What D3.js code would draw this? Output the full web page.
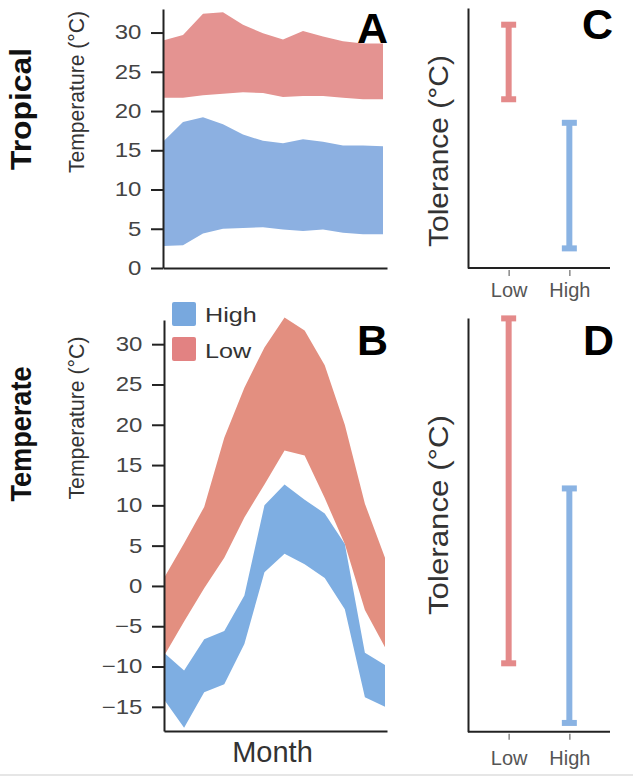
<!DOCTYPE html>
<html>
<head>
<meta charset="utf-8">
<script src="https://cdn.jsdelivr.net/npm/d3@7"></script>
<style>
  html, body { margin: 0; padding: 0; background: #fff; }
  svg { display: block; font-family: "Liberation Sans", Arial, Helvetica, sans-serif; }
</style>
</head>
<body>
<svg id="chart" width="633" height="779"></svg>
<script>
// ---------------- DATA ----------------
const months = [1, 2, 3, 4, 5, 6, 7, 8, 9, 10, 11, 12];

// Tropical (panel A), °C
const tropHighMin = [2.8, 2.9, 4.4, 5.0, 5.1, 5.2, 4.9, 4.7, 4.9, 4.5, 4.3, 4.3];
const tropHighMax = [16.1, 18.6, 19.2, 18.3, 17.0, 16.2, 15.9, 16.4, 16.1, 15.6, 15.6, 15.5];
const tropLowMin  = [21.7, 21.7, 22.0, 22.2, 22.4, 22.3, 21.8, 21.9, 21.9, 21.7, 21.5, 21.5];
const tropLowMax  = [29.0, 29.7, 32.4, 32.6, 31.0, 29.9, 29.1, 30.2, 29.5, 28.9, 28.6, 28.6];

// Temperate (panel B), °C
const tempHighMin = [-14.1, -17.6, -13.2, -12.2, -7.2, 1.7, 4.0, 2.7, 1.0, -2.9, -13.8, -15.0];
const tempHighMax = [-8.3, -10.5, -6.6, -5.6, -1.2, 10.0, 12.6, 10.7, 9.0, 5.2, -8.3, -9.8];
const tempLowMin  = [-8.7, -4.4, -0.3, 3.5, 8.5, 12.6, 16.8, 16.2, 10.9, 5.2, -3.0, -7.6];
const tempLowMax  = [1.0, 5.3, 9.8, 18.4, 24.6, 29.6, 33.3, 31.7, 27.4, 20.0, 10.2, 3.5];

// Tolerance ranges (panels C, D): [min, max]
const tolCategories = ["Low", "High"];
const tropTolerance = { Low: [21.5, 31.0], High: [2.5, 18.5] };
const tempTolerance = { Low: [-9.6, 33.2], High: [-17.0, 12.1] };

const tickA = [0, 5, 10, 15, 20, 25, 30];
const tickB = [-15, -10, -5, 0, 5, 10, 15, 20, 25, 30];
const legendLabels = ["High", "Low"];

// ---------------- STYLE ----------------
const colors = {
  redA: "#e49391", blueA: "#8cb0e1",
  redB: "#e38f80", blueB: "#7eaee2",
  barRed: "#e48a8a", barBlue: "#8ab3e3",
  legBlue: "#78a8de", legRed: "#e28282",
  axis: "#222", tickText: "#444"
};

const svg = d3.select("#chart");
svg.append("rect").attr("width", 633).attr("height", 779).attr("fill", "#fff");

// ---------------- SCALES ----------------
const xA = d3.scaleLinear().domain([1, 12]).range([163, 383]);
const yA = d3.scaleLinear().domain([0, 33]).range([268, 9]);
const xB = d3.scaleLinear().domain([1, 12]).range([164, 385]);
const yB = d3.scaleLinear().domain([-18, 33]).range([731, 320]);

const xC = d3.scalePoint().domain(tolCategories).range([468, 610]).padding(0.67);
const yC = yA;
const yD = yB;

function zip(lo, hi) { return months.map((m, i) => ({ m, lo: lo[i], hi: hi[i] })); }

function band(g, x, y, data, fill) {
  const area = d3.area().x(d => x(d.m)).y0(d => y(d.lo)).y1(d => y(d.hi));
  g.append("path").datum(data).attr("d", area).attr("fill", fill);
}

function styleAxis(g) {
  g.selectAll(".domain").attr("stroke", colors.axis).attr("stroke-width", 2);
  g.selectAll(".tick line").attr("stroke", colors.axis).attr("stroke-width", 2);
}

function leftAxis(y, tickVals, x0) {
  const g = svg.append("g").attr("transform", `translate(${x0},0)`)
    .call(d3.axisLeft(y).tickValues(tickVals).tickSize(12).tickSizeOuter(0).tickPadding(6).tickFormat(d3.format("d")));
  styleAxis(g);
  g.selectAll(".tick text")
    .attr("font-size", 20).attr("fill", colors.tickText)
    .attr("font-family", "'Liberation Sans', Arial, sans-serif")
    .attr("transform", "scale(1.2,1)");
  return g;
}

function bottomLine(x0, x1, yy) {
  const s = d3.scaleLinear().domain([0, 1]).range([x0, x1]);
  const g = svg.append("g").attr("transform", `translate(0,${yy})`)
    .call(d3.axisBottom(s).tickValues([]).tickSizeOuter(0));
  styleAxis(g);
}

// ---------------- PANEL A ----------------
const gA = svg.append("g");
band(gA, xA, yA, zip(tropLowMin, tropLowMax), colors.redA);
band(gA, xA, yA, zip(tropHighMin, tropHighMax), colors.blueA);
leftAxis(yA, tickA, 163);
bottomLine(163, 387, 268);

// ---------------- PANEL B ----------------
const gB = svg.append("g");
band(gB, xB, yB, zip(tempLowMin, tempLowMax), colors.redB);
band(gB, xB, yB, zip(tempHighMin, tempHighMax), colors.blueB);
leftAxis(yB, tickB, 164);
bottomLine(164, 387, 731);

// Legend
const legColors = [colors.legBlue, colors.legRed];
legendLabels.forEach((lab, i) => {
  svg.append("rect").attr("x", 172).attr("y", 302 + i * 35).attr("width", 24).attr("height", 24)
    .attr("rx", 2).attr("fill", legColors[i]);
  svg.append("text").attr("transform", `translate(205,${322 + i * 36}) scale(1.2,1)`)
    .attr("font-size", 21).attr("fill", "#333").text(lab);
});

// Month label
svg.append("text").attr("x", 272.5).attr("y", 762).attr("text-anchor", "middle")
  .attr("font-size", 29).attr("fill", "#333").text("Month");

// ---------------- PANELS C, D ----------------
function tolPanel(y, tol, axisTop, axisBottomY, tickPad) {
  const g = svg.append("g");
  const gy = svg.append("g").attr("transform", "translate(468,0)")
    .call(d3.axisLeft(d3.scaleLinear().domain([0, 1]).range([axisBottomY, axisTop])).tickValues([]).tickSizeOuter(0));
  styleAxis(gy);
  const gx = svg.append("g").attr("transform", `translate(0,${axisBottomY})`)
    .call(d3.axisBottom(xC).tickSize(8).tickSizeOuter(0).tickPadding(tickPad));
  gx.selectAll(".domain").attr("stroke", colors.axis).attr("stroke-width", 2)
    .attr("d", `M468,0H610`);
  gx.selectAll(".tick line").attr("stroke", "#888").attr("stroke-width", 1.5).attr("y1", 2);
  gx.selectAll(".tick text").attr("font-size", 20).attr("fill", "#555")
    .attr("font-family", "'Liberation Sans', Arial, sans-serif");

  const barCol = { Low: colors.barRed, High: colors.barBlue };
  tolCategories.forEach(c => {
    const cx = xC(c), [lo, hi] = tol[c];
    g.append("line").attr("x1", cx).attr("x2", cx).attr("y1", y(lo)).attr("y2", y(hi))
      .attr("stroke", barCol[c]).attr("stroke-width", 6);
    [lo, hi].forEach(v => {
      g.append("line").attr("x1", cx - 7.5).attr("x2", cx + 7.5).attr("y1", y(v)).attr("y2", y(v))
        .attr("stroke", barCol[c]).attr("stroke-width", 6);
    });
  });
}
tolPanel(yC, tropTolerance, 8, 268, 7);
tolPanel(yD, tempTolerance, 318, 731.7, 11);

// ---------------- LABELS ----------------
function vlabel(x, y, txt, size, weight, len) {
  const t = svg.append("text").attr("transform", `translate(${x},${y}) rotate(-90)`)
    .attr("text-anchor", "middle").attr("font-size", size).attr("font-weight", weight)
    .attr("fill", weight === "bold" ? "#111" : "#333").text(txt);
  if (len) t.attr("textLength", len).attr("lengthAdjust", "spacingAndGlyphs");
}
vlabel(31, 109, "Tropical", 30, "bold", 122);
vlabel(31, 434, "Temperate", 30, "bold", 135);
vlabel(84, 92, "Temperature (°C)", 22, "normal", 162);
vlabel(84, 418, "Temperature (°C)", 22, "normal", 163);
vlabel(448, 151, "Tolerance (°C)", 27, "normal", 192);
vlabel(448, 515, "Tolerance (°C)", 27, "normal", 200);

const letters = [["A", 357, 43], ["B", 357, 355], ["C", 582, 39], ["D", 583, 355]];
letters.forEach(([l, x, y]) => {
  svg.append("text").attr("x", x).attr("y", y).attr("font-size", 43).attr("font-weight", "bold")
    .attr("fill", "#000").text(l);
});

// bottom separator
svg.append("line").attr("x1", 0).attr("x2", 633).attr("y1", 775).attr("y2", 775)
  .attr("stroke", "#e6e6e6").attr("stroke-width", 2);
</script>
</body>
</html>
